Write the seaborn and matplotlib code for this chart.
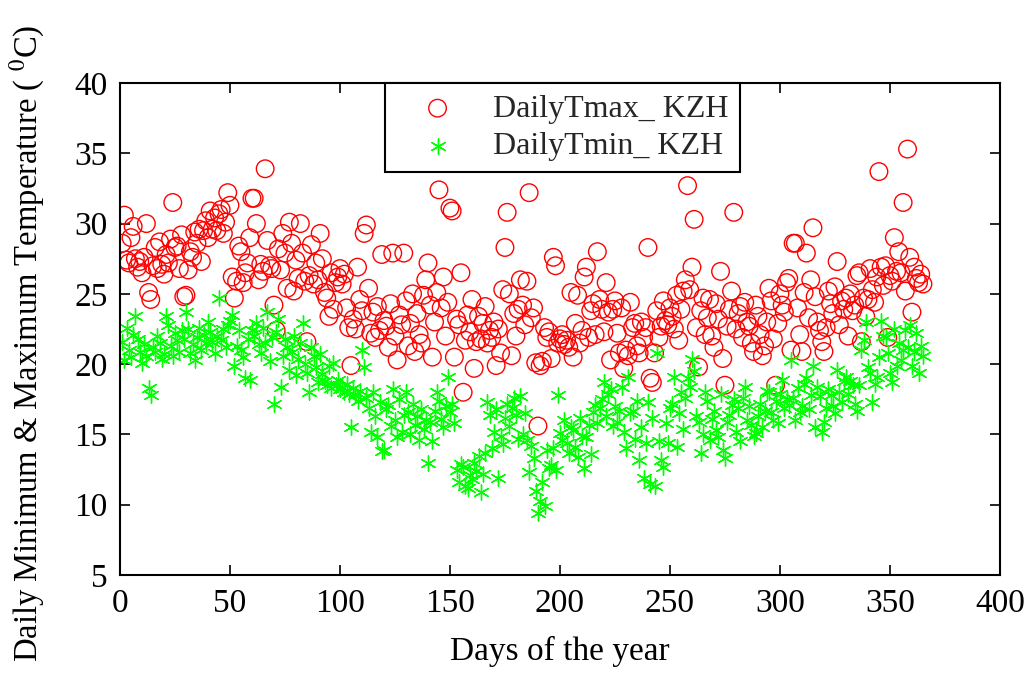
import numpy as np
import pandas as pd
import matplotlib
matplotlib.use("Agg")
import matplotlib.pyplot as plt
import seaborn as sns

# Daily max temperature (deg C), days 1..365
tmax = [
    28.6, 30.6, 27.4, 27.2, 29.0, 29.8, 27.5, 26.9, 27.3, 26.5,
    27.6, 30.0, 25.1, 24.6, 27.0, 28.3, 26.8, 28.7, 27.1, 26.4,
    27.8, 27.2, 28.9, 31.5, 28.3, 28.4, 26.8, 29.2, 24.8, 24.9,
    26.7, 28.0, 27.6, 29.4, 28.6, 29.6, 27.3, 29.5, 30.2, 29.0,
    30.9, 29.6, 30.4, 29.5, 30.7, 31.0, 29.3, 30.1, 32.2, 31.3,
    26.2, 24.7, 25.9, 28.4, 28.0, 25.8, 26.5, 27.2, 29.0, 31.8,
    31.8, 30.0, 26.0, 27.1, 26.6, 33.9, 28.8, 27.0, 26.8, 24.2,
    22.4, 28.2, 26.7, 29.3, 27.9, 25.4, 30.1, 28.6, 25.2, 27.4,
    26.1, 30.0, 27.9, 25.9, 21.6, 26.3, 28.5, 25.7, 27.2, 26.0,
    29.3, 27.5, 25.1, 24.7, 23.4, 26.5, 23.9, 25.8, 26.2, 26.8,
    25.7, 26.4, 24.0, 22.6, 19.9, 23.2, 22.5, 26.9, 24.6, 23.8,
    29.3, 29.9, 25.4, 22.2, 23.7, 21.9, 24.1, 22.4, 27.8, 23.1,
    22.7, 21.2, 24.3, 27.9, 22.0, 20.3, 23.5, 22.8, 27.9, 24.5,
    21.3, 22.9, 25.0, 20.9, 23.6, 22.1, 21.5, 24.9, 26.0, 27.2,
    24.2, 20.5, 23.0, 25.1, 32.4, 24.0, 26.2, 22.0, 24.4, 31.1,
    30.9, 20.5, 23.2, 22.8, 26.5, 18.0, 21.7, 23.5, 22.3, 24.6,
    19.7, 21.6, 23.4, 21.8, 22.9, 24.1, 21.5, 22.4, 21.9, 23.0,
    19.9, 22.5, 20.8, 25.3, 28.3, 30.8, 25.0, 20.6, 23.6, 22.0,
    23.9, 26.0, 24.2, 22.8, 25.9, 32.2, 23.3, 24.0, 20.1, 15.6,
    19.9, 20.2, 22.6, 21.9, 22.3, 20.4, 27.6, 27.0, 21.5, 21.8,
    22.1, 21.4, 21.7, 21.2, 25.1, 20.5, 22.9, 24.9, 21.5, 22.4,
    26.2, 26.9, 21.9, 23.8, 24.3, 22.1, 28.0, 24.6, 23.9, 22.3,
    25.8, 23.7, 20.3, 23.9, 24.5, 22.2, 20.8, 24.0, 19.7, 21.0,
    20.6, 24.4, 22.6, 22.9, 21.3, 20.8, 23.0, 21.9, 22.6, 28.3,
    19.0, 18.7, 20.8, 23.8, 21.9, 22.7, 24.5, 23.1, 22.8, 24.0,
    23.4, 22.5, 24.9, 21.7, 23.9, 25.2, 26.0, 32.7, 25.3, 26.9,
    30.3, 22.6, 19.8, 23.8, 24.7, 22.1, 23.3, 24.6, 22.0, 21.2,
    24.3, 23.2, 26.6, 20.4, 18.5, 22.7, 23.9, 25.2, 30.8, 22.5,
    23.6, 24.1, 21.9, 24.4, 23.0, 22.7, 21.5, 20.9, 24.2, 23.4,
    22.1, 20.6, 21.3, 23.0, 25.4, 24.5, 21.8, 18.5, 22.9, 25.0,
    24.2, 23.7, 25.8, 26.1, 21.0, 28.6, 28.6, 24.0, 22.1, 20.9,
    25.1, 27.9, 23.3, 26.0, 29.7, 24.8, 23.0, 22.4, 21.6, 20.9,
    22.6, 25.2, 24.3, 23.6, 25.5, 27.3, 22.8, 24.5, 23.9, 24.7,
    22.0, 25.0, 23.8, 24.2, 26.3, 26.5, 21.6, 24.7, 23.4, 24.6,
    26.8, 25.3, 24.4, 26.2, 33.7, 26.9, 25.6, 27.0, 21.9, 26.3,
    25.9, 29.0, 26.6, 28.0, 26.5, 31.5, 25.2, 35.3, 27.6, 23.7,
    26.9, 26.1, 25.8, 26.4, 25.7,
]

# Daily min temperature (deg C), days 1..365
tmin = [
    21.6, 20.3, 22.6, 21.0, 20.5, 22.1, 23.4, 21.8, 20.9, 20.1,
    21.4, 20.6, 18.3, 17.8, 21.2, 20.9, 22.0, 21.5, 20.4, 20.7,
    23.4, 22.8, 21.3, 20.6, 22.2, 21.7, 20.9, 22.4, 21.8, 23.7,
    22.5, 20.8, 21.4, 20.3, 21.9, 22.6, 21.0, 22.1, 21.5, 23.0,
    22.3, 21.6, 20.8, 22.0, 24.7, 21.7, 22.5, 21.2, 22.8, 23.1,
    23.5, 19.9, 21.3, 22.4, 21.0, 20.5, 19.0, 21.8, 18.9, 22.4,
    22.0, 22.9, 21.4, 20.8, 22.6, 21.5, 23.7, 20.2, 21.9, 17.2,
    22.3, 23.2, 18.4, 20.6, 21.8, 21.2, 19.6, 20.9, 22.0, 19.2,
    20.4, 21.5, 22.9, 20.0, 19.4, 18.0, 21.2, 20.6, 19.8, 18.7,
    20.7, 19.3, 18.8, 18.5, 19.9, 18.3, 20.1, 18.5, 18.9, 18.2,
    18.4, 18.0, 18.6, 17.9, 15.5, 18.3, 17.8, 17.4, 18.1, 21.0,
    19.8, 17.6, 16.9, 15.2, 18.0, 16.3, 14.8, 17.3, 13.8, 13.9,
    16.8, 17.1, 15.6, 18.2, 16.0, 14.8, 17.5, 15.2, 16.4, 18.0,
    16.6, 15.0, 17.2, 15.7, 16.3, 14.6, 16.8, 15.4, 16.0, 13.0,
    15.9, 14.5, 16.7, 18.0, 17.4, 16.1, 15.5, 17.0, 19.1, 16.6,
    17.2, 15.8, 12.5, 11.6, 12.9, 12.7, 11.3, 11.2, 12.1, 11.8,
    13.0, 12.4, 13.5, 10.9, 12.2, 13.7, 17.3, 16.4, 14.0, 15.2,
    16.8, 11.9, 14.9, 14.3, 16.2, 17.2, 15.6, 16.9, 17.6, 16.4,
    14.7, 17.7, 15.0, 16.5, 14.6, 12.3, 14.2, 13.3, 11.0, 9.4,
    10.3, 11.6, 9.9, 13.9, 12.6, 12.8, 14.0, 12.5, 17.8, 15.1,
    14.6, 16.0, 14.4, 13.7, 15.5, 15.3, 14.1, 13.4, 16.2, 14.9,
    12.6, 14.8, 15.7, 13.6, 16.6, 17.1, 15.8, 16.9, 17.5, 18.7,
    16.3, 17.9, 18.2, 15.6, 17.0, 15.9, 16.7, 18.4, 15.2, 14.0,
    19.1, 16.5, 16.7, 14.7, 17.4, 13.2, 15.5, 11.9, 14.4, 17.3,
    11.5, 16.2, 11.3, 20.8, 14.5, 13.2, 12.7, 15.8, 14.4, 16.9,
    17.2, 19.1, 14.1, 16.5, 18.0, 15.4, 17.6, 19.0, 18.4, 20.4,
    19.5, 16.3, 15.9, 13.7, 15.0, 18.0, 17.4, 14.6, 16.1, 16.7,
    15.3, 14.8, 17.9, 13.9, 13.3, 15.9, 16.4, 17.1, 17.5, 15.2,
    16.9, 14.5, 17.6, 18.4, 16.0, 17.0, 15.7, 14.9, 15.1, 16.3,
    17.2, 15.5, 16.7, 18.1, 18.0, 16.6, 16.0, 17.4, 15.8, 17.9,
    18.9, 16.9, 17.5, 17.1, 20.3, 17.6, 16.0, 18.3, 16.6, 17.0,
    18.6, 19.0, 16.8, 17.8, 19.9, 15.5, 18.4, 17.7, 15.2, 15.9,
    16.9, 18.2, 17.8, 17.0, 16.5, 19.6, 18.0, 17.3, 18.8, 19.1,
    17.9, 18.8, 18.5, 17.2, 16.7, 18.5, 21.0, 21.7, 23.0, 19.8,
    19.4, 17.3, 18.6, 19.1, 20.5, 23.1, 22.0, 21.9, 20.8, 19.4,
    18.7, 22.5, 19.9, 21.5, 20.3, 21.0, 22.4, 21.2, 22.8, 19.9,
    20.9, 22.2, 19.4, 21.3, 20.6,
]

days = list(range(1, len(tmax) + 1))
labels = ["DailyTmax_ KZH", "DailyTmin_ KZH"]

df = pd.DataFrame({"day": days, "tmax": tmax, "tmin": tmin})

sns.set_style("ticks")
plt.rcParams["font.family"] = ["Liberation Serif", "DejaVu Serif"]
plt.rcParams["mathtext.fontset"] = "stix"
plt.rcParams["xtick.direction"] = "in"
plt.rcParams["ytick.direction"] = "in"

fig = plt.figure(figsize=(10.28, 6.76), dpi=100)
ax = fig.add_axes([0.1167, 0.1494, 0.856, 0.7278])

sns.scatterplot(data=df, x="day", y="tmax", ax=ax, marker="o", s=160,
                facecolors="none", edgecolor="red", linewidth=1.0,
                label=labels[0])
sns.scatterplot(data=df, x="day", y="tmin", ax=ax, marker=(6, 2, 0), s=120,
                color="#00ff00", edgecolor="#00ff00", linewidth=1.0,
                label=labels[1])

ax.set_xlim(0, 400)
ax.set_ylim(5, 40)
ax.set_xticks(np.arange(0, 401, 50))
ax.set_yticks(np.arange(5, 41, 5))
ax.tick_params(axis="both", labelsize=24, length=7, width=1.2,
               top=True, right=True, colors="black")
ax.tick_params(axis="x", pad=10)
ax.tick_params(axis="y", pad=9)
for sp in ax.spines.values():
    sp.set_visible(True)
    sp.set_linewidth(1.5)
    sp.set_color("black")

ax.set_xlabel("Days of the year", fontsize=24, labelpad=12, color="black")
ax.set_ylabel(r"Daily Minimum & Maximum Temperature ( $^{0}$C)", fontsize=23.5,
              color="black")
# rotated label: the anchor is its right-hand edge
ax.yaxis.set_label_coords(-0.083, 0.47)

leg = ax.legend(loc="upper left", bbox_to_anchor=(0.301, 1.0), fontsize=23,
                frameon=True, fancybox=False, framealpha=1, edgecolor="black",
                borderpad=0.35, borderaxespad=0, handletextpad=0.45,
                handlelength=2.6, markerscale=1.0, labelspacing=0.25)
leg.get_frame().set_linewidth(1.5)

fig.savefig("out.png", dpi=100)
plt.close(fig)
